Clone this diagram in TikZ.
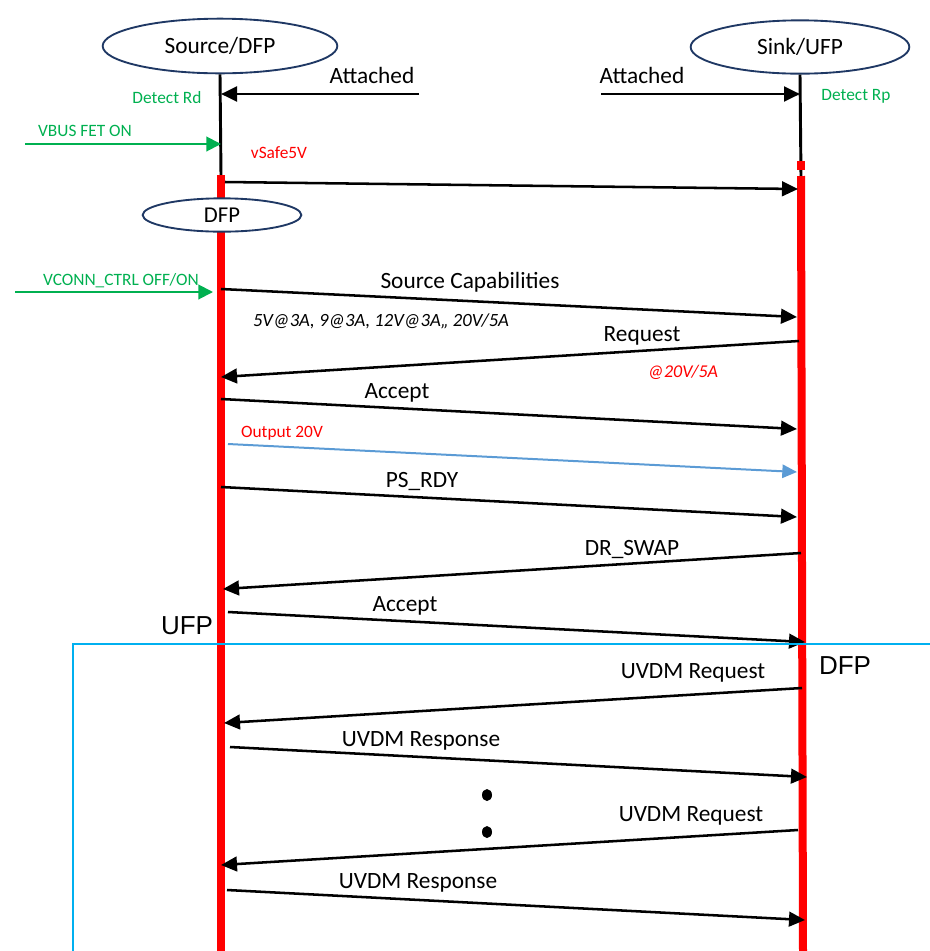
\documentclass[tikz,border=0pt]{standalone}
\usepackage{fontspec}
\setmainfont{Carlito}
\newfontfamily\arialfont{Liberation Sans}
\usetikzlibrary{arrows.meta, shapes.geometric}

\definecolor{pdred}{RGB}{255,0,0}
\definecolor{pdgreen}{RGB}{0,176,80}
\definecolor{pdblue}{RGB}{91,155,213}
\definecolor{boxcyan}{RGB}{0,176,240}
\definecolor{navy}{RGB}{31,56,100}

\begin{document}
\begin{tikzpicture}[
  x=0.75pt, y=-0.75pt,
  party/.style={ellipse, draw=navy, line width=1.4pt, inner sep=0pt,
                font=\fontsize{17.5}{20}\selectfont},
  lifeblk/.style={line width=2.2pt, black},
  lifered/.style={line width=6pt, pdred},
  msg/.style={line width=1.9pt, -{Triangle[length=12pt, width=11pt]}},
  gmsg/.style={line width=1.5pt, pdgreen, -{Triangle[length=11pt, width=11pt]}},
  bmsg/.style={line width=1.5pt, pdblue, -{Triangle[length=11pt, width=10pt]}},
  lbl/.style={font=\fontsize{17.5}{20}\selectfont},
  gnote/.style={font=\fontsize{13}{15}\selectfont, text=pdgreen},
  rnote/.style={font=\fontsize{13}{15}\selectfont, text=pdred},
  pdo/.style={font=\fontsize{14}{16}\selectfont\itshape},
  role/.style={font=\arialfont\fontsize{19.5}{22}\selectfont},
]
\useasboundingbox (0,0) rectangle (930,951);

% Parties
\node[party, minimum width=176pt, minimum height=41pt] (src) at (220,46) {Source/DFP};
\node[party, minimum width=164pt, minimum height=40pt] (snk) at (800,47) {Sink/UFP};

% Lifelines
\coordinate (srcon) at (221,175);
\coordinate (srcend) at (221,951);
\coordinate (snkon) at (801,176);
\coordinate (snkend) at (803,951);
\draw[lifeblk] (src.south) -- (srcon);
\draw[lifered] (srcon) -- (srcend);
\draw[lifeblk] (snk.south) -- (snkon);
\draw[lifered] (snkon) -- (snkend);
\fill[pdred] (797,161) rectangle (805,170);

\node[party, fill=white, minimum width=119pt, minimum height=25pt,
      font=\fontsize{17}{20}\selectfont] (dfp) at (222,215) {DFP};

% Attach
\coordinate (att1) at (419,94);
\coordinate (att1e) at (221,94);
\coordinate (att2) at (601,94);
\coordinate (att2e) at (800,94);
\draw[msg, line width=2.2pt] (att1) -- (att1e);
\draw[msg, line width=2.2pt] (att2) -- (att2e);
\node[lbl] (attl1) at (372,75) {Attached};
\node[lbl] (attl2) at (642,75) {Attached};
\node[gnote] (rd) at (167,98) {Detect Rd};
\node[gnote] (rp) at (856,96) {Detect Rp};

% VBUS
\coordinate (vb) at (25,144);
\coordinate (vbe) at (221,144);
\draw[gmsg] (vb) -- (vbe);
\node[gnote] (vbl) at (85,131) {VBUS FET ON};
\node[rnote] (v5) at (279,153) {vSafe5V};
\coordinate (v5s) at (225,182);
\coordinate (v5e) at (798,189);
\draw[msg] (v5s) -- (v5e);

% VCONN
\coordinate (vc) at (15,292);
\coordinate (vce) at (213,292);
\draw[gmsg] (vc) -- (vce);
\node[gnote] (vcl) at (121,281) {VCONN\_CTRL OFF/ON};

% Source Capabilities
\coordinate (cap) at (221,289);
\coordinate (cape) at (797,317);
\draw[msg] (cap) -- (cape);
\node[lbl] (capl) at (470,282) {Source Capabilities};
\node[pdo] (pdol) at (381,321) {5V@3A, 9@3A, 12V@3A,, 20V/5A};

% Request
\coordinate (req) at (799,341);
\coordinate (reqe) at (221,377);
\draw[msg] (req) -- (reqe);
\node[lbl] (reql) at (642,336) {Request};
\node[rnote, font=\fontsize{13.5}{15}\selectfont\itshape] (reqv) at (683,372) {@20V/5A};

% Accept
\coordinate (acc) at (221,399);
\coordinate (acce) at (797,429);
\draw[msg] (acc) -- (acce);
\node[lbl] (accl) at (397,393) {Accept};

% Output 20V
\node[rnote] (outl) at (282,433) {Output 20V};
\coordinate (out) at (228,444);
\coordinate (oute) at (797,472);
\draw[bmsg] (out) -- (oute);

% PS_RDY
\coordinate (rdy) at (221,487);
\coordinate (rdye) at (797,517);
\draw[msg] (rdy) -- (rdye);
\node[lbl] (rdyl) at (422,481) {PS\_RDY};

% DR_SWAP
\coordinate (swp) at (801,553);
\coordinate (swpe) at (223,589);
\draw[msg] (swp) -- (swpe);
\node[lbl] (swpl) at (632,549) {DR\_SWAP};

% Accept
\coordinate (acc2) at (228,612);
\coordinate (acc2e) at (805,642);
\draw[msg] (acc2) -- (acc2e);
\node[lbl] (acc2l) at (405,606) {Accept};
\node[role] (ufp) at (187,626) {UFP};
\node[role] (dfpr) at (845,666) {DFP};

% Swapped region
\coordinate (boxr) at (932,644);
\coordinate (boxc) at (73,644);
\coordinate (boxb) at (73,953);
\draw[boxcyan, line width=1.8pt] (boxr) -- (boxc) -- (boxb);

% UVDM
\coordinate (uq1) at (802,688);
\coordinate (uq1e) at (224,723);
\draw[msg] (uq1) -- (uq1e);
\node[lbl] (uq1l) at (693,673) {UVDM Request};
\coordinate (ur1) at (230,747);
\coordinate (ur1e) at (807,777);
\draw[msg] (ur1) -- (ur1e);
\node[lbl] (ur1l) at (421,741) {UVDM Response};

\fill (487,795) ellipse (5 and 6);
\fill (487,832) ellipse (5 and 6);

\coordinate (uq2) at (798,830);
\coordinate (uq2e) at (221,865);
\draw[msg] (uq2) -- (uq2e);
\node[lbl] (uq2l) at (691,816) {UVDM Request};
\coordinate (ur2) at (227,890);
\coordinate (ur2e) at (805,920);
\draw[msg] (ur2) -- (ur2e);
\node[lbl] (ur2l) at (418,883) {UVDM Response};

\end{tikzpicture}
\end{document}
